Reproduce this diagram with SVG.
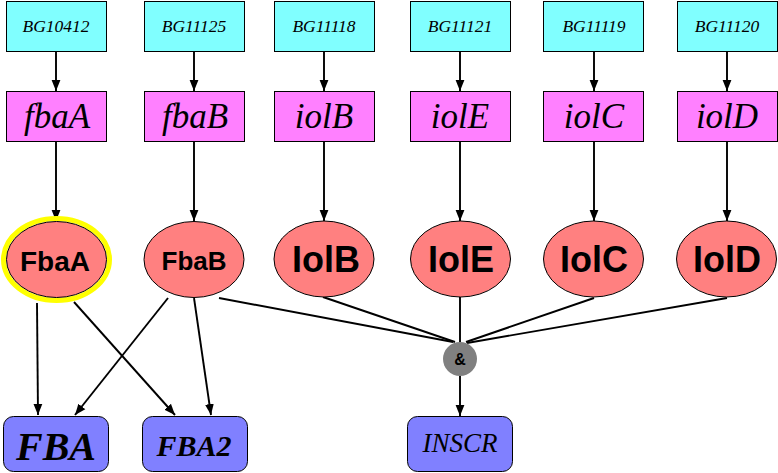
<svg xmlns="http://www.w3.org/2000/svg" width="778" height="473" viewBox="0 0 778 473">
<style>
.bg rect{fill:#80FFFF;stroke:#000;stroke-width:1}
.gene rect{fill:#FF80FF;stroke:#000;stroke-width:1}
.prot ellipse{fill:#FF8080;stroke:#000;stroke-width:1}
.out rect{fill:#8080FF;stroke:#000;stroke-width:1}
.bgt{font-family:"Liberation Serif",serif;font-style:italic;font-size:17.5px;text-anchor:middle;fill:#000}
.gt{font-family:"Liberation Serif",serif;font-style:italic;font-size:35px;text-anchor:middle;fill:#000}
.pt{font-family:"Liberation Sans",Arial,sans-serif;font-weight:bold;text-anchor:middle;fill:#000}
.ot{font-family:"Liberation Serif",serif;font-style:italic;text-anchor:middle;fill:#000}
#edges line{stroke:#000;stroke-width:1.9;fill:none}
#edges line.a{marker-end:url(#ah)}
</style>
<defs>
<marker id="ah" viewBox="0 0 10 10" refX="10" refY="5" markerWidth="11" markerHeight="11" markerUnits="userSpaceOnUse" orient="auto">
<path d="M0,1 L10,5 L0,9 Z" fill="#000"/>
</marker>
</defs>
<rect width="778" height="473" fill="#fff"/>
<g id="edges">
<line class="a" x1="56" y1="51" x2="56" y2="91"/>
<line class="a" x1="194" y1="51" x2="194" y2="91"/>
<line class="a" x1="324" y1="51" x2="324" y2="91"/>
<line class="a" x1="460" y1="51" x2="460" y2="91"/>
<line class="a" x1="594" y1="51" x2="594" y2="91"/>
<line class="a" x1="727" y1="51" x2="727" y2="91"/>
<line class="a" x1="56" y1="141" x2="56" y2="221"/>
<line class="a" x1="194" y1="141" x2="194" y2="221"/>
<line class="a" x1="324" y1="141" x2="324" y2="221"/>
<line class="a" x1="460" y1="141" x2="460" y2="221"/>
<line class="a" x1="594" y1="141" x2="594" y2="221"/>
<line class="a" x1="727" y1="141" x2="727" y2="221"/>
<line class="a" x1="37" y1="303" x2="38" y2="415"/>
<line class="a" x1="74" y1="302" x2="175" y2="415"/>
<line class="a" x1="168" y1="298" x2="75" y2="415"/>
<line class="a" x1="194" y1="298" x2="211" y2="415"/>
<line x1="219" y1="298" x2="453" y2="342"/>
<line x1="323" y1="297" x2="455" y2="342"/>
<line x1="460" y1="297" x2="460" y2="342"/>
<line x1="594" y1="298" x2="466" y2="342"/>
<line x1="727" y1="298" x2="467" y2="343"/>
<line class="a" x1="460" y1="376" x2="460" y2="416"/>
</g>
<g id="BG10412" class="bg"><rect x="6.5" y="1.5" width="100" height="50"/><text class="bgt" x="56" y="32">BG10412</text></g>
<g id="BG11125" class="bg"><rect x="144.5" y="1.5" width="100" height="50"/><text class="bgt" x="194" y="32">BG11125</text></g>
<g id="BG11118" class="bg"><rect x="274.5" y="1.5" width="100" height="50"/><text class="bgt" x="324" y="32">BG11118</text></g>
<g id="BG11121" class="bg"><rect x="410.5" y="1.5" width="100" height="50"/><text class="bgt" x="460" y="32">BG11121</text></g>
<g id="BG11119" class="bg"><rect x="543.5" y="1.5" width="100" height="50"/><text class="bgt" x="594" y="32">BG11119</text></g>
<g id="BG11120" class="bg"><rect x="677.5" y="1.5" width="100" height="50"/><text class="bgt" x="727" y="32">BG11120</text></g>
<g id="fbaA" class="gene"><rect x="6.5" y="91.5" width="100" height="50"/><text class="gt" x="57" y="128">fbaA</text></g>
<g id="fbaB" class="gene"><rect x="144.5" y="91.5" width="100" height="50"/><text class="gt" x="195" y="128">fbaB</text></g>
<g id="iolB" class="gene"><rect x="274.5" y="91.5" width="100" height="50"/><text class="gt" x="324" y="128">iolB</text></g>
<g id="iolE" class="gene"><rect x="410.5" y="91.5" width="100" height="50"/><text class="gt" x="460" y="128">iolE</text></g>
<g id="iolC" class="gene"><rect x="543.5" y="91.5" width="100" height="50"/><text class="gt" x="594" y="128">iolC</text></g>
<g id="iolD" class="gene"><rect x="677.5" y="91.5" width="100" height="50"/><text class="gt" x="727" y="128">iolD</text></g>
<g id="FbaA" class="prot"><ellipse cx="56.5" cy="259.5" rx="53" ry="41" style="fill:none;stroke:#FFFF00;stroke-width:5"/><ellipse cx="56.5" cy="259.5" rx="50" ry="38"/><text class="pt" x="55" y="271" font-size="28">FbaA</text></g>
<g id="FbaB" class="prot"><ellipse cx="194" cy="259.5" rx="50" ry="38"/><text class="pt" x="194" y="270" font-size="26">FbaB</text></g>
<g id="IolB" class="prot"><ellipse cx="324" cy="259" rx="50" ry="38"/><text class="pt" x="326" y="272" font-size="36">IolB</text></g>
<g id="IolE" class="prot"><ellipse cx="460.5" cy="259" rx="50" ry="38"/><text class="pt" x="461" y="272" font-size="36">IolE</text></g>
<g id="IolC" class="prot"><ellipse cx="593.5" cy="259" rx="50" ry="38"/><text class="pt" x="594" y="272" font-size="36">IolC</text></g>
<g id="IolD" class="prot"><ellipse cx="726.5" cy="259" rx="50" ry="38"/><text class="pt" x="727" y="272" font-size="36">IolD</text></g>
<g id="and"><circle cx="460" cy="359" r="17" fill="#808080"/><text class="pt" x="460" y="365" font-size="16">&amp;</text></g>
<g id="FBA" class="out"><rect x="3.5" y="416.5" width="105" height="55" rx="10"/><text class="ot" x="56" y="460" font-size="40" font-weight="bold">FBA</text></g>
<g id="FBA2" class="out"><rect x="142.5" y="416.5" width="105" height="55" rx="10"/><text class="ot" x="194" y="456" font-size="30" font-weight="bold">FBA2</text></g>
<g id="INSCR" class="out"><rect x="407.5" y="416.5" width="105" height="55" rx="10"/><text class="ot" x="460" y="452" font-size="27">INSCR</text></g>
</svg>
